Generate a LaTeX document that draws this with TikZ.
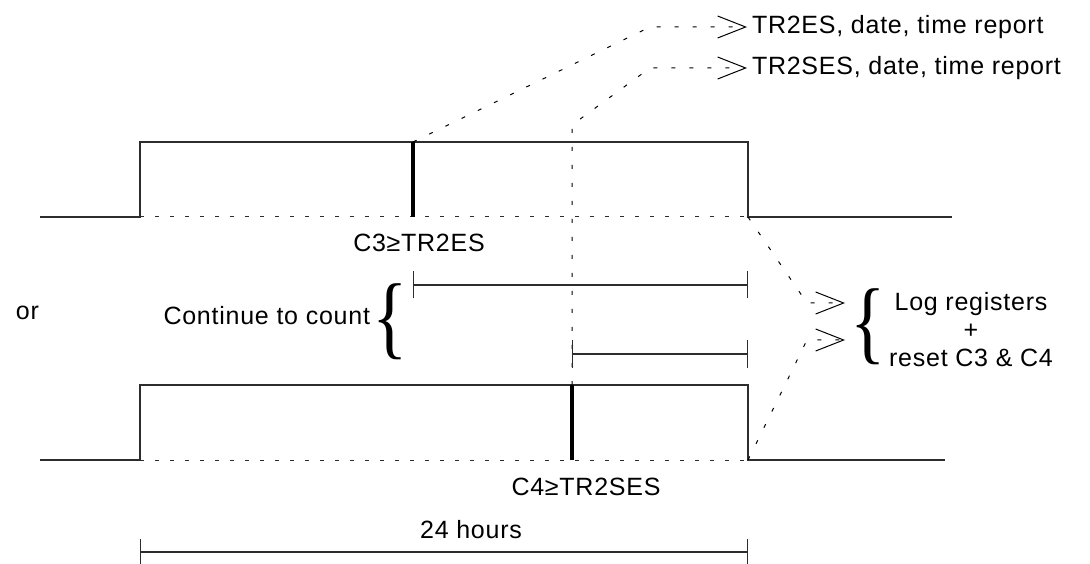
\documentclass[tikz,border=0pt]{standalone}
\usepackage{fontspec}
\setmainfont{Liberation Sans}[LetterSpace=3]
\newfontfamily\bracefont{Liberation Serif}
\usetikzlibrary{arrows.meta}

\begin{document}
\begin{tikzpicture}[x=1pt,y=1pt]
\definecolor{drawColor}{RGB}{45,45,45}
\definecolor{fillColor}{RGB}{255,255,255}
\tikzset{
  wave/.style={draw=drawColor,line width=1.3pt,line join=miter},
  lowdots/.style={draw=drawColor,line width=1pt,dash pattern=on 4pt off 11pt},
  trigger/.style={draw=black,line width=4pt},
  report/.style={draw=black,line width=1pt,dash pattern=on 4pt off 14pt,
    -{Straight Barb[length=28pt,width=22pt,line width=1pt]}},
  span/.style={draw=drawColor,line width=1.3pt,{Bar[width=27pt]}-{Bar[width=27pt]}},
  lbl/.style={text=black,inner sep=0pt,outer sep=0pt,font=\fontsize{25}{28}\selectfont},
  brace/.style={inner sep=0pt,outer sep=0pt,xscale=0.8,font=\bracefont\fontsize{92}{92}\selectfont}
}
\path[use as bounding box,fill=fillColor] (0,0) rectangle (1090,563);

% first day: C3 reaches TR2ES
\path[wave] (40,346) -- (140,346) -- (140,421) -- (748,421) -- (748,346) -- (952,346);
\path[lowdots] (140,346) -- (748,346);
\coordinate (es trig) at (413,421);
\coordinate (es fall) at (748,346);
\path[trigger] (413,346) -- (es trig);
\node[lbl,anchor=base] (c3 lbl) at (419,311) {C3≥TR2ES};

% second day: C4 reaches TR2SES
\path[wave] (40,103) -- (140,103) -- (140,178) -- (748,178) -- (748,103) -- (945,103);
\path[lowdots] (140,103) -- (748,103);
\coordinate (ses trig) at (572,178);
\coordinate (ses fall) at (748,103);
\path[trigger] (572,103) -- (ses trig);
\node[lbl,anchor=base] (c4 lbl) at (586,68) {C4≥TR2SES};

% reports
\node[lbl,anchor=west] (es rep) at (752,536) {TR2ES, date, time report};
\node[lbl,anchor=west] (ses rep) at (752,495) {TR2SES, date, time report};
\path[report] (es trig) -- (650,536) -- ([xshift=-5pt]es rep.west);
\path[report] (ses trig) -- (572,438) -- (650,495) -- ([xshift=-5pt]ses rep.west);

% counting spans
\coordinate (c3 start) at (413,278);
\coordinate (c3 end) at (748,278);
\coordinate (c4 start) at (572,209);
\coordinate (c4 end) at (748,209);
\path[span] (c3 start) -- (c3 end);
\path[span] (c4 start) -- (c4 end);
\node[lbl,anchor=base west] (or lbl) at (16,243) {or};
\node[lbl,anchor=base east] (count lbl) at (370,238) {Continue to count};
\node[brace] (count brace) at (390,241) {\{};

% end of day
\coordinate (log es) at (845,260);
\coordinate (log ses) at (845,223);
\path[report] (es fall) -- (807,260) -- (log es);
\path[report] (ses fall) -- (807,223) -- (log ses);
\node[brace] (log brace) at (868,236) {\{};
\node[lbl,align=center] (log lbl) at (971,233) {Log registers\\+\\reset C3 \& C4};

% 24 hours
\coordinate (day start) at (140,11);
\coordinate (day end) at (748,11);
\path[span] (day start) -- (day end);
\node[lbl,anchor=base] (day lbl) at (471,25) {24 hours};
\end{tikzpicture}
\end{document}
